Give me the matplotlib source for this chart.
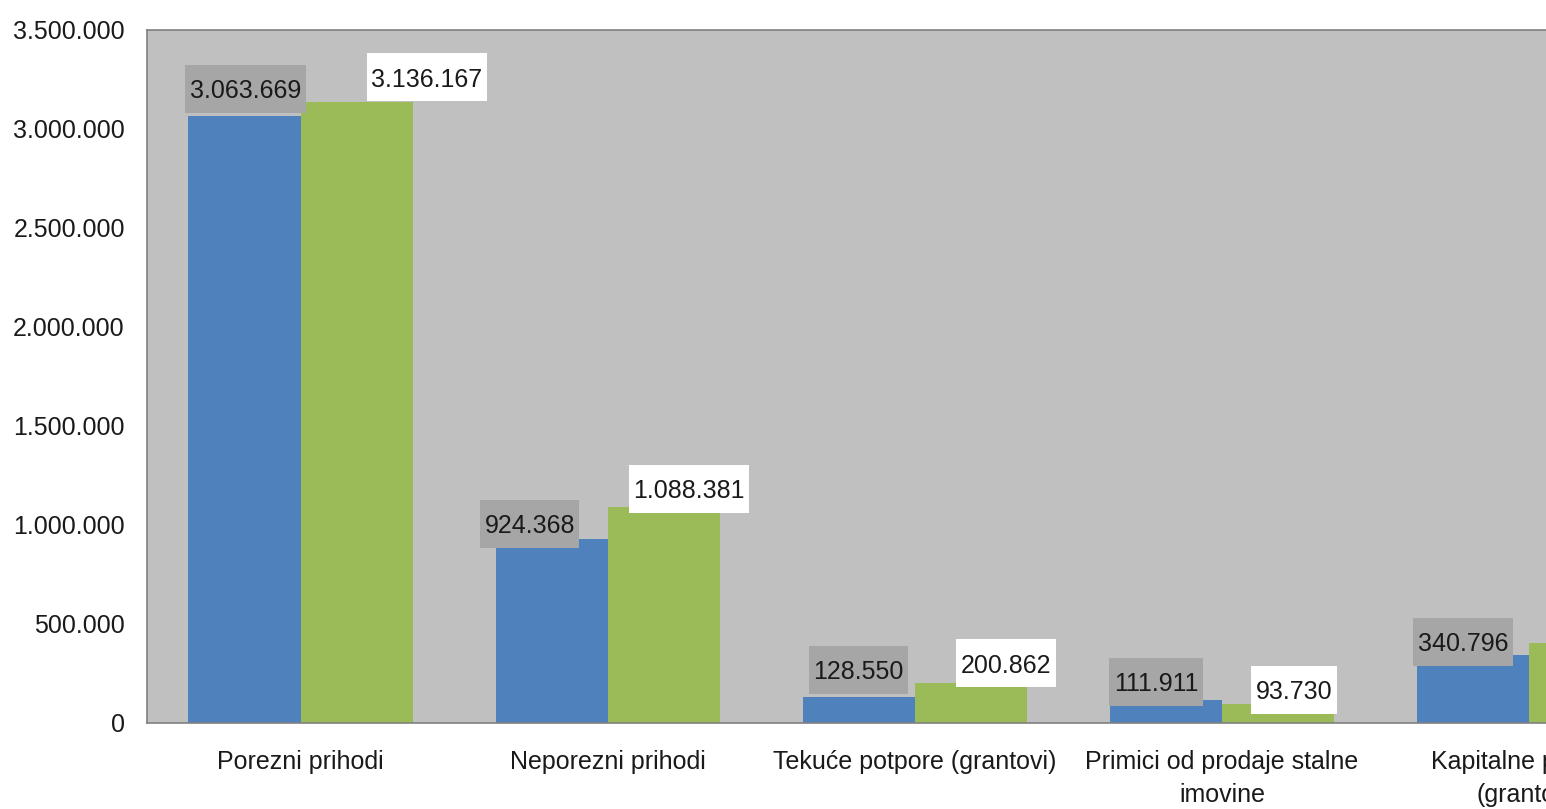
import matplotlib.pyplot as plt
import numpy as np
from matplotlib.path import Path
from matplotlib.ticker import FuncFormatter, MultipleLocator

categories = ["Porezni prihodi", "Neporezni prihodi", "Tekuće potpore (grantovi)",
              "Primici od prodaje stalne\nimovine", "Kapitalne potpore\n(grantovi)"]
blue_values = [3063669, 924368, 128550, 111911, 340796]
green_values = [3136167, 1088381, 200862, 93730, 400000]

# label placement (pixels): box centre shift from bar centre, box bottom above bar top
blue_dx = [1, -22, 0, -10, -10]
blue_dy = [3, -9, 3, -6, -11]
green_dx = [70, 25, 35, 16, 40]
green_dy = [0, -6, -5, -10, 0]

BLUE = "#4F81BD"
GREEN = "#9BBB59"
FONT = "Liberation Sans"
FS = 18

plt.rcParams['font.family'] = [FONT, 'DejaVu Sans']


def label_box(x0, y0, width, height, mutation_size):
    # excel style label frame: small side padding, tall top/bottom padding
    m = mutation_size
    base = y0 + 0.21 * m
    left = x0 - 0.18 * m
    right = x0 + width + 0.18 * m
    bottom = base - 0.6 * m
    top = bottom + 1.92 * m
    return Path([(left, bottom), (right, bottom), (right, top), (left, top), (left, bottom)],
                closed=True)


fig = plt.figure(figsize=(15.46, 8.09), dpi=100)
ax = fig.add_axes([147 / 1546, 86.5 / 809, (1546 - 147) / 1546, 693 / 809])
ax.set_facecolor("#C0C0C0")

x = np.arange(len(categories))
w = 0.365
ax.bar(x - w / 2, blue_values, w, color=BLUE)
ax.bar(x + w / 2, green_values, w, color=GREEN)

ax.set_xlim(-0.5, 4.055)
ax.set_ylim(0, 3500000)
ax.yaxis.set_major_locator(MultipleLocator(500000))
ax.yaxis.set_major_formatter(FuncFormatter(lambda v, p: f"{int(v):,}".replace(",", ".")))
ax.set_xticks(x)
ax.set_xticklabels(categories, fontsize=FS, linespacing=1.45)
ax.tick_params(axis="y", length=0, pad=16, labelsize=FS, labelcolor="#1A1A1A")
ax.tick_params(axis="x", length=0, pad=20, labelcolor="#1A1A1A")

for s in ["left", "bottom", "top"]:
    ax.spines[s].set_color("#808080")
    ax.spines[s].set_linewidth(1.2)
ax.spines["right"].set_visible(False)

px = 0.72  # points per pixel at 100 dpi
for i in range(len(categories)):
    ax.annotate(f"{blue_values[i]:,}".replace(",", "."), (x[i] - w / 2, blue_values[i]),
                xytext=(blue_dx[i] * px, (blue_dy[i] + 15) * px), textcoords="offset points",
                ha="center", va="baseline", fontsize=FS, color="#1A1A1A",
                bbox=dict(boxstyle=label_box, fc="#A6A6A6", ec="none"))
    ax.annotate(f"{green_values[i]:,}".replace(",", "."), (x[i] + w / 2, green_values[i]),
                xytext=(green_dx[i] * px, (green_dy[i] + 15) * px), textcoords="offset points",
                ha="center", va="baseline", fontsize=FS, color="#1A1A1A",
                bbox=dict(boxstyle=label_box, fc="white", ec="none"))

fig.savefig("out.png", dpi=100)
